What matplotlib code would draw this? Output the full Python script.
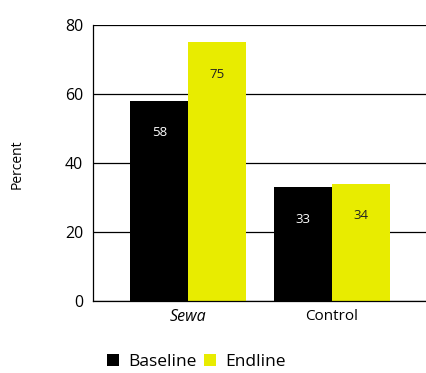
import matplotlib
matplotlib.use("Agg")
import matplotlib.pyplot as plt
import numpy as np

plt.rcParams['font.family'] = ['Open Sans', 'DejaVu Sans']

categories = ["Sewa", "Control"]
series_names = ["Baseline", "Endline"]
baseline = [58, 33]
endline = [75, 34]
yticks = [0, 20, 40, 60, 80]

colors = ["#000000", "#E8EC00"]
label_colors = ["white", "#222222"]

fig = plt.figure(figsize=(4.27, 3.73), dpi=100)
ax = fig.add_axes([93/427, 1 - 301/373, (427-93)/427, (301-25)/373])

x = np.arange(len(categories))
w = 0.4
for i, (vals, name) in enumerate(zip([baseline, endline], series_names)):
    pos = x + (i - 0.5) * w
    ax.bar(pos, vals, width=w, color=colors[i], label=name, zorder=2)
    for p, v in zip(pos, vals):
        ax.annotate(str(v), (p, v), xytext=(0, -23), textcoords="offset points",
                    ha="center", va="center", fontsize=9.5, color=label_colors[i], zorder=3)

ax.set_ylim(0, 80)
ax.set_xlim(-0.66, 1.66)
ax.set_yticks(yticks)
ax.set_xticks(x)
ax.set_xticklabels(categories, fontsize=11)
ax.get_xticklabels()[0].set_style("italic")
ax.get_xticklabels()[0].set_fontsize(11.5)
ax.tick_params(axis='y', length=0, labelsize=11.5, pad=7)
ax.tick_params(axis='x', length=0, pad=5.5)
ax.grid(axis='y', color='black', linewidth=0.9, zorder=1)
ax.set_axisbelow(True)
for s in ['top', 'right']:
    ax.spines[s].set_visible(False)
ax.spines['left'].set_linewidth(0.9)
ax.spines['bottom'].set_linewidth(0.9)

fig.text(17/427, 1 - 164/373, "Percent", rotation=90, ha="center", va="center", fontsize=10)

fig.legend(loc="center", bbox_to_anchor=(196.5/427, 1 - 362/373), ncol=2, frameon=False,
           fontsize=12.5, handlelength=0.7, handleheight=0.7, handletextpad=0.55,
           columnspacing=0.4)

fig.savefig("out.png", dpi=100)
